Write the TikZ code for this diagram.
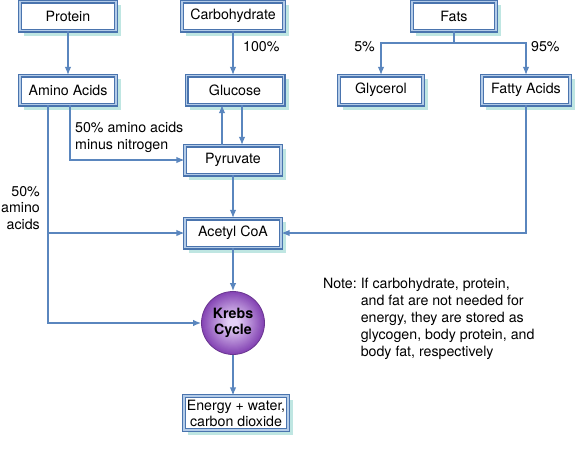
\documentclass[tikz,border=0pt]{standalone}
\usepackage{fontspec}
\setmainfont{TeX Gyre Heros}
\usepackage{tikz}
\usetikzlibrary{calc}
\usetikzlibrary{arrows.meta}
\usetikzlibrary{backgrounds}
\definecolor{frameColor}{HTML}{4A74AE}
\definecolor{gapColor}{HTML}{B4CCE8}
\definecolor{shadeColor}{HTML}{BFE6E2}
\definecolor{lineColor}{HTML}{5A86BE}
\definecolor{krebsLight}{HTML}{E4CFF6}
\definecolor{krebsDark}{HTML}{8444B4}

\begin{document}
\begin{tikzpicture}[x=1pt,y=-1pt,
		box/.style={draw=frameColor, line width=1.1pt, double=gapColor, double distance=1.8pt, fill=white,
			minimum height=29pt, inner sep=2pt, align=center, font=\fontsize{14.2}{16}\selectfont},
		lbl/.style={font=\fontsize{14.2}{16.5}\selectfont, inner sep=0pt},
		arrow/.style={draw=lineColor, line width=1.3pt, -{Latex[length=8pt,width=6.5pt]}},
		link/.style={draw=lineColor, line width=1.3pt}
		]
		\useasboundingbox (0,0) rectangle (575,448);

		% Top row
		\node[box, minimum width=96pt] (protein) at (68,16) {Protein};
		\node[box, minimum width=102pt] (carb) at (233,16) {Carbohydrate};
		\node[box, minimum width=84pt] (fats) at (454,16) {Fats};

		% Second row
		\node[box, minimum width=96pt] (amino) at (68,90) {Amino Acids};
		\node[box, minimum width=97pt] (glucose) at (235,90) {Glucose};
		\node[box, minimum width=84pt] (glycerol) at (381,90) {Glycerol};
		\node[box, minimum width=88pt] (fatty) at (526,90) {Fatty Acids};

		% Middle column
		\node[box, minimum width=96pt] (pyruvate) at (233,160) {Pyruvate};
		\node[box, minimum width=96pt] (acetyl) at (233,233) {Acetyl CoA};
		\node[circle, minimum size=63pt, draw=krebsDark!80!black, line width=0.8pt, align=center,
			font=\fontsize{14.2}{16}\selectfont\bfseries] (krebs) at (233,323) {Krebs\\Cycle};
		\node[box, minimum width=104pt, minimum height=34pt] (energy) at (236,413) {Energy + water,\\carbon dioxide};

		% Shadows and shading
		\begin{scope}[on background layer]
			\foreach \n in {protein,carb,fats,amino,glucose,glycerol,fatty,pyruvate,acetyl,energy}
				\fill[shadeColor] ($(\n.south west)+(4.5,4.5)$) rectangle ($(\n.north east)+(4.5,4.5)$);
			\foreach \i [evaluate=\i as \p using 4*\i, evaluate=\i as \r using 31.5-1.05*\i] in {0,...,25}
				\fill[krebsLight!\p!krebsDark] (krebs.center) circle (\r);
		\end{scope}

		% Connectors
		\draw[arrow] (protein) -- (amino);
		\draw[arrow] (carb) -- (glucose.north -| carb);
		\coordinate (fatsplit) at (454,43);
		\draw[link] (fats) -- (fatsplit);
		\draw[arrow] (fatsplit) -| (glycerol.north);
		\draw[arrow] (fatsplit) -| (fatty.north);
		\draw[arrow] ([xshift=-11pt]pyruvate.north) -- ([xshift=-11pt]pyruvate.north |- glucose.south);
		\draw[arrow] ([xshift=9pt]pyruvate.north |- glucose.south) -- ([xshift=9pt]pyruvate.north);
		\draw[arrow] (pyruvate) -- (acetyl);
		\draw[arrow] (acetyl) -- (krebs);
		\draw[arrow] (krebs) -- (krebs |- energy.north);
		\draw[arrow] ([xshift=2pt]amino.south) |- (pyruvate.west);
		\draw[arrow] ([xshift=-20pt]amino.south) |- (krebs.west);
		\draw[arrow] ([xshift=-20pt]amino.south |- acetyl.west) -- (acetyl.west);
		\draw[arrow] (fatty.south) |- (acetyl.east);

		% Labels
		\node[lbl, anchor=west] (pc100) at (243,47) {100\%};
		\node[lbl, anchor=east] (pc5) at (375,47) {5\%};
		\node[lbl, anchor=west] (pc95) at (531,47) {95\%};
		\node[lbl, anchor=north west, align=left] (minusn) at (75,122) {50\% amino acids\\minus nitrogen};
		\node[lbl, anchor=east, align=right] (halfaa) at (40,208) {50\%\\amino\\acids};
		\node[lbl, anchor=north west, align=left] (note) at (323,277)
			{\begin{tabular}{@{}l@{\hspace{4pt}}l@{}}Note: & If carbohydrate, protein,\\[0.5pt]
			& and fat are not needed for\\[0.5pt] & energy, they are stored as\\[0.5pt]
			& glycogen, body protein, and\\[0.5pt] & body fat, respectively\end{tabular}};
	\end{tikzpicture}
\end{document}
